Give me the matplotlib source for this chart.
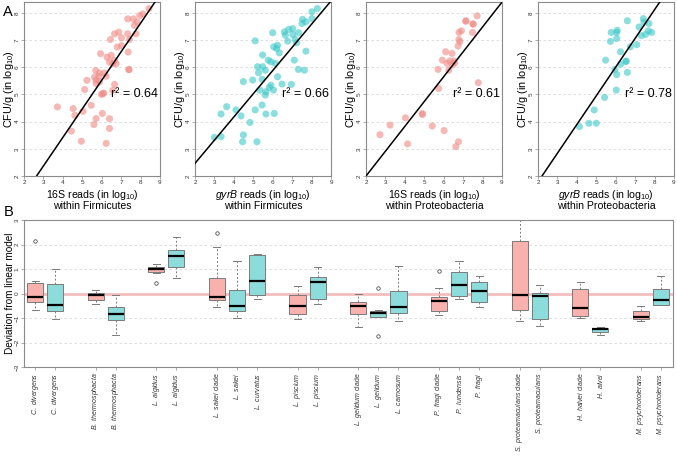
import matplotlib
matplotlib.use("Agg")
import matplotlib.pyplot as plt
import numpy as np

plt.rcParams['font.family'] = ['Liberation Sans', 'DejaVu Sans']
plt.rcParams['mathtext.fontset'] = 'custom'
plt.rcParams['mathtext.rm'] = 'Liberation Sans'
plt.rcParams['mathtext.it'] = 'Liberation Sans:italic'

# ---- panel A data (log10 reads vs log10 CFU/g) ----
x_16s_firm = [8.43, 8.11, 7.96, 7.34, 7.63, 7.82, 7.68, 7.77, 7.34, 6.88, 6.66, 6.45, 7.02, 7.43,
              6.80, 7.02, 7.36, 5.94, 6.49, 6.40, 6.66, 6.74, 6.57, 6.27, 7.39, 7.41, 5.69, 5.89,
              6.15, 5.86, 6.23, 5.63, 5.24, 5.71, 5.89, 5.71, 6.66, 5.12, 6.57, 6.06, 5.98, 6.11,
              5.46, 3.72, 4.53, 4.62, 5.04, 6.03, 5.71, 6.40, 5.60, 6.40, 4.44, 4.95, 6.23]
y_16s_firm = [8.16, 7.96, 7.90, 7.78, 7.78, 7.66, 7.54, 7.23, 7.23, 7.29, 7.23, 7.02, 7.08, 7.02,
              6.74, 6.80, 6.56, 6.50, 6.44, 6.19, 6.25, 6.13, 6.13, 6.37, 5.91, 5.92, 5.88, 5.79,
              5.79, 5.67, 5.67, 5.64, 5.52, 5.52, 5.46, 5.40, 5.37, 5.18, 5.15, 5.03, 5.00, 5.05,
              4.60, 4.54, 4.48, 4.23, 4.38, 4.30, 4.11, 4.11, 3.89, 3.75, 3.65, 3.28, 3.20]

x_gyrb_firm = [8.30, 8.02, 7.54, 7.51, 7.71, 8.02, 7.03, 6.82, 7.33, 6.60, 6.00, 6.65, 7.03, 7.16,
               5.10, 6.77, 7.23, 6.25, 6.05, 6.20, 6.34, 7.71, 5.48, 5.77, 7.11, 5.91, 6.13, 5.48,
               5.22, 5.62, 7.32, 7.63, 5.27, 6.25, 4.97, 4.49, 5.45, 5.91, 5.82, 6.48, 6.96, 6.04,
               5.34, 5.65, 5.62, 5.45, 5.10, 4.11, 3.63, 3.34, 4.37, 5.65, 6.08, 4.83, 3.00, 3.34,
               4.49, 4.45, 5.19]
y_gyrb_firm = [8.16, 8.04, 7.76, 7.61, 7.67, 7.79, 7.42, 7.39, 7.27, 7.30, 7.27, 7.18, 7.20, 7.03,
               6.97, 6.96, 6.90, 6.81, 6.75, 6.69, 6.53, 6.59, 6.45, 6.26, 6.26, 6.20, 6.14, 6.02,
               6.02, 5.89, 5.92, 5.89, 5.80, 5.65, 5.53, 5.47, 5.56, 5.34, 5.26, 5.38, 5.37, 5.16,
               5.16, 5.10, 4.98, 4.61, 4.43, 4.43, 4.55, 4.28, 4.21, 4.28, 4.30, 3.97, 3.42, 3.45,
               3.51, 3.26, 3.26]

x_16s_prot = [7.72, 7.14, 7.52, 6.91, 6.79, 7.48, 6.78, 6.83, 6.74, 6.10, 6.43, 5.93, 6.31, 6.52,
              6.17, 6.57, 6.45, 6.26, 5.71, 7.78, 5.74, 4.90, 4.03, 5.41, 3.24, 6.02, 2.72, 4.14,
              6.76, 6.62, 7.14, 7.50, 4.90]
y_16s_prot = [7.89, 7.71, 7.58, 7.34, 7.28, 7.28, 7.02, 6.94, 6.78, 6.57, 6.51, 6.26, 6.23, 6.23,
              6.14, 6.16, 6.08, 5.89, 5.92, 5.43, 5.22, 4.30, 4.14, 3.84, 3.87, 3.67, 3.52, 3.18,
              3.26, 3.08, 7.69, 7.60, 4.26]

x_gyrb_prot = [7.42, 7.71, 6.60, 6.08, 6.05, 5.77, 5.73, 6.05, 7.68, 7.54, 7.32, 7.85, 7.08, 6.75,
               6.25, 5.48, 6.54, 6.25, 5.96, 6.60, 6.05, 6.03, 5.43, 4.89, 4.13, 4.62, 5.00, 7.45,
               6.52, 7.20]
y_gyrb_prot = [7.79, 7.61, 7.71, 7.36, 7.28, 7.28, 6.95, 7.06, 7.34, 7.21, 7.16, 7.28, 6.83, 6.75,
               6.57, 6.26, 6.23, 6.11, 5.92, 5.81, 5.73, 5.16, 4.89, 4.43, 3.82, 3.94, 3.94, 7.66,
               6.21, 7.48]

# fitted lines (slope, intercept) and r^2 as printed
fit_slope = [1.05, 0.853, 0.914, 1.056]
fit_icpt = [-0.78, 0.76, 0.17, -0.33]
r2_vals = ["0.64", "0.66", "0.61", "0.78"]
genes_A = ["16S", "gyrB", "16S", "gyrB"]
taxa_A = ["Firmicutes", "Firmicutes", "Proteobacteria", "Proteobacteria"]

# ---- panel B data (deviation from linear model) ----
box_labels = ["C. divergens", "C. divergens", "B. thermosphacta", "B. thermosphacta",
              "L. algidus", "L. algidus", "L. sakei| clade", "L. sakei", "L. curvatus",
              "L. piscium", "L. piscium", "L. gelidum| clade", "L. gelidum", "L. carnosum",
              "P. fragi| clade", "P. lundensis", "P. fragi", "S. proteamaculans| clade",
              "S. proteamaculans", "H. halvei| clade", "H. alvei", "M. psychrotolerans",
              "M. psychrotolerans"]
group_sizes = [2, 2, 2, 3, 2, 3, 3, 2, 2, 2]
box_gene = ["16S", "gyrB", "16S", "gyrB", "16S", "gyrB", "16S", "gyrB", "gyrB", "16S", "gyrB",
            "16S", "gyrB", "gyrB", "16S", "gyrB", "gyrB", "16S", "gyrB", "16S", "gyrB", "16S", "gyrB"]
whis_lo = [-0.68, -1.04, -0.42, -1.70, 0.82, 0.62, -0.57, -1.00, -0.23, -1.03, -0.41,
           -1.35, -0.96, -1.12, -0.86, -0.23, -0.54, -1.14, -1.31, -1.01, -1.70, -1.11, -0.47]
q1 = [-0.35, -0.70, -0.27, -1.09, 0.86, 1.08, -0.28, -0.72, -0.07, -0.82, -0.24,
      -0.82, -0.96, -0.78, -0.72, -0.09, -0.35, -0.69, -1.03, -0.93, -1.58, -1.03, -0.45]
med = [-0.15, -0.46, -0.08, -0.82, 1.00, 1.55, -0.15, -0.53, 0.53, -0.50, 0.46,
       -0.53, -0.78, -0.55, -0.32, 0.36, 0.11, -0.05, -0.09, -0.58, -1.43, -0.95, -0.26]
q3 = [0.42, 0.38, 0.04, -0.54, 1.07, 1.77, 0.62, 0.16, 1.57, -0.07, 0.66,
      -0.35, -0.70, 0.12, -0.14, 0.86, 0.46, 2.14, 0.04, 0.18, -1.39, -0.72, 0.18]
whis_hi = [0.53, 0.99, 0.14, -0.07, 1.19, 2.32, 1.90, 1.34, 1.60, 0.30, 1.07,
           -0.01, -0.66, 1.12, 0.22, 1.31, 0.73, 3.40, 0.35, 0.46, -1.36, -0.49, 0.70]
outliers = [[2.14], [], [], [], [0.42], [], [2.45], [], [], [], [],
            [], [0.22, -1.73], [], [0.91], [], [], [], [], [], [], [], []]

pt_color = {"16S": "#F08A84", "gyrB": "#3CC8C8"}
box_color = {"16S": "#F8B1AC", "gyrB": "#8DDCDC"}
frame_col = "#8a8a8a"

fig = plt.figure(figsize=(6.77, 4.63), dpi=100)

panels = [(x_16s_firm, y_16s_firm), (x_gyrb_firm, y_gyrb_firm),
          (x_16s_prot, y_16s_prot), (x_gyrb_prot, y_gyrb_prot)]
lefts = [24, 195, 366, 538]
for i, (xs, ys) in enumerate(panels):
    ax = fig.add_axes([lefts[i] / 677, 1 - 176 / 463, 136 / 677, 174 / 463])
    for y in range(3, 9):
        ax.axhline(y, color="#d8d8d8", lw=0.6, ls=(0, (3, 3)), zorder=0)
    ax.scatter(xs, ys, s=26, color=pt_color[genes_A[i]], alpha=0.6, edgecolors="none", zorder=2)
    ax.axline((0, fit_icpt[i]), slope=fit_slope[i], color="black", lw=1.1, zorder=3)
    ax.set_xlim(2, 9)
    ax.set_ylim(2, 8.4)
    ax.set_xticks(range(2, 10))
    ax.set_yticks(range(2, 9))
    ax.tick_params(labelsize=4.6, length=2, width=0.5, color=frame_col, pad=1.2, labelcolor="#333333")
    for lab in ax.get_yticklabels():
        lab.set_rotation(90)
        lab.set_va("center")
    for sp in ax.spines.values():
        sp.set_color(frame_col)
        sp.set_linewidth(0.8)
    gene = "16S" if genes_A[i] == "16S" else r"$\it{gyrB}$"
    ax.set_xlabel(gene + r" reads (in log$_{10}$)" + "\nwithin " + taxa_A[i], fontsize=7.6,
                  labelpad=1.5, linespacing=0.95)
    ax.set_ylabel(r"CFU/g (in log$_{10}$)", fontsize=7.8)
    ax.yaxis.set_label_coords(-0.062, 0.5)
    ax.text(0.985, 0.47, "r\u00b2 = " + r2_vals[i], transform=ax.transAxes, ha="right",
            va="center", fontsize=9)

fig.text(0.005, 0.974, "A", fontsize=10.5, va="center")
fig.text(0.005, 0.542, "B", fontsize=10.5, va="center")

# ---- panel B ----
axb = fig.add_axes([24 / 677, 1 - 367 / 463, 649 / 677, 147 / 463])
positions = []
p = 0
for g in group_sizes:
    positions.extend(range(p, p + g))
    p += g + 1

for y in [-2, -1, 1, 2]:
    axb.axhline(y, color="#d8d8d8", lw=0.6, ls=(0, (3, 3)), zorder=0)
axb.axhline(0, color="#F4BDBD", lw=2, zorder=1)

stats = []
for k in range(len(box_labels)):
    stats.append(dict(med=med[k], q1=q1[k], q3=q3[k], whislo=whis_lo[k], whishi=whis_hi[k],
                      fliers=outliers[k]))
bp = axb.bxp(stats, positions=positions, widths=0.8, patch_artist=True, capwidths=0.35,
             boxprops=dict(edgecolor="#7a7a7a", linewidth=0.7),
             whiskerprops=dict(color="#7a7a7a", linewidth=0.7, linestyle=(0, (2, 2))),
             capprops=dict(color="#7a7a7a", linewidth=0.7),
             medianprops=dict(color="black", linewidth=1.6),
             flierprops=dict(marker="o", markersize=2.5, markerfacecolor="none",
                             markeredgecolor="#333333", markeredgewidth=0.5))
for patch, g in zip(bp["boxes"], box_gene):
    patch.set_facecolor(box_color[g])

axb.set_xlim(-0.55, 31.6)
axb.set_ylim(-3, 3)
axb.set_yticks(range(-3, 4))


def fmt(lab):
    if "|" in lab:
        sp, rest = lab.split("|")
        return r"$\it{" + sp.replace(" ", r"\ ") + r"}$" + rest
    return r"$\it{" + lab.replace(" ", r"\ ") + r"}$"


axb.set_xticks(positions)
axb.set_xticklabels([fmt(l) for l in box_labels], rotation=90, fontsize=5, va="top")
axb.tick_params(axis="y", labelsize=4.6, length=2, width=0.5, color=frame_col, pad=1.2,
                labelcolor="#333333")
axb.tick_params(axis="x", length=2, width=0.5, color=frame_col, pad=2, labelcolor="#333333")
for lab in axb.get_yticklabels():
    lab.set_rotation(90)
    lab.set_va("center")
for sp in axb.spines.values():
    sp.set_color(frame_col)
    sp.set_linewidth(0.8)
axb.set_ylabel("Deviation from linear model", fontsize=7.2)
axb.yaxis.set_label_coords(-0.0135, 0.5)

fig.savefig("out.png", dpi=100)
